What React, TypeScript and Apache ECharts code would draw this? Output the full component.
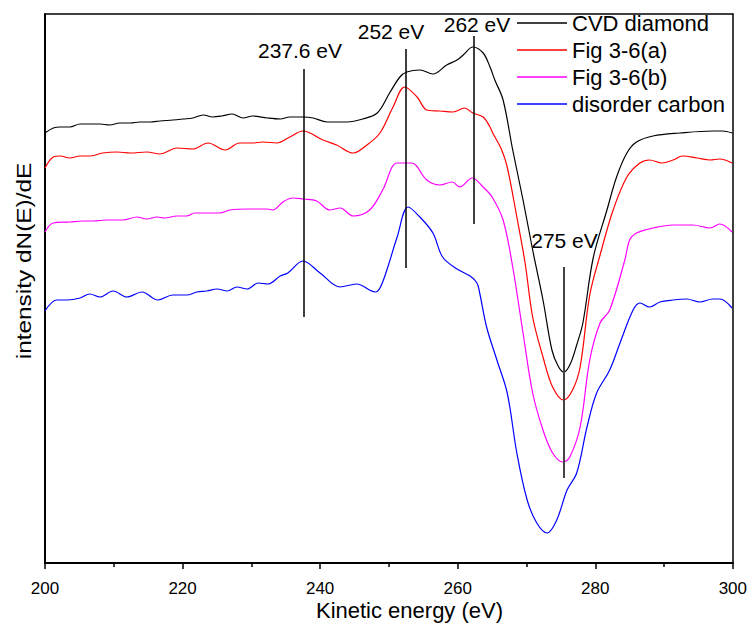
import React, { useEffect, useRef } from "react";
import * as echarts from "echarts";

// Kinetic energy (eV) and intensity (arbitrary units, vertically offset curves)
const cvdX = [200.0, 201.2, 202.2, 203.6, 205.1, 206.5, 208.0, 209.4, 210.9, 212.4, 213.8, 215.3, 216.7, 218.6, 220.1, 221.5, 223.0, 224.4, 225.7, 227.2, 228.8, 230.2, 232.3, 234.2, 235.6, 237.5, 239.0, 241.0, 243.9, 246.2, 248.3, 250.1, 251.6, 252.6, 254.5, 256.4, 258.4, 259.9, 260.8, 262.2, 263.7, 264.7, 265.4, 266.6, 268.0, 269.5, 270.9, 272.4, 273.7, 274.6, 275.4, 276.3, 277.3, 278.2, 279.7, 281.7, 283.1, 284.6, 286.0, 288.4, 292.3, 297.1, 298.5, 299.9];
const cvdY = [430, 435, 436, 436, 439, 439, 439, 438, 440, 440, 441, 441, 442, 443, 444, 445, 448, 446, 447, 449, 445, 447, 445, 444, 446, 446, 445, 441, 441, 444, 450, 470, 486, 491, 493, 489, 498, 503, 508, 516, 510, 496, 483, 463, 413, 363, 313, 263, 213, 197, 191, 198, 218, 240, 305, 353, 386, 410, 421, 427, 430, 432, 432, 430];

const figAX = [200.0, 201.2, 202.2, 203.6, 205.1, 206.5, 208.4, 210.5, 212.4, 214.8, 216.7, 219.2, 221.5, 223.7, 226.2, 228.3, 230.2, 231.7, 233.7, 235.6, 237.5, 240.4, 242.4, 244.8, 246.8, 248.7, 250.6, 252.3, 254.1, 255.5, 257.4, 259.3, 261.0, 262.2, 263.7, 264.7, 265.1, 266.4, 267.2, 268.6, 269.8, 270.9, 272.4, 273.8, 275.4, 276.7, 277.8, 279.2, 280.7, 282.6, 284.6, 286.5, 287.9, 289.7, 291.3, 292.7, 294.8, 296.7, 298.1, 299.9];
const figAY = [395, 406, 407, 405, 407, 407, 410, 411, 410, 411, 409, 415, 414, 420, 413, 420, 420, 421, 420, 426, 432, 423, 418, 410, 418, 430, 456, 476, 466, 453, 452, 451, 455, 450, 446, 436, 430, 413, 396, 346, 300, 246, 206, 176, 163, 173, 196, 268, 308, 353, 386, 400, 403, 400, 403, 407, 405, 403, 404, 400];

const figBX = [200.0, 201.2, 203.6, 205.5, 207.0, 209.0, 211.3, 213.4, 214.8, 216.3, 217.4, 219.2, 220.6, 221.8, 223.5, 225.4, 226.9, 229.4, 232.3, 233.1, 234.6, 236.0, 237.5, 239.5, 241.4, 242.9, 244.8, 247.2, 249.1, 251.2, 253.3, 255.5, 257.4, 259.2, 260.3, 262.1, 263.7, 265.0, 266.6, 268.0, 269.5, 270.9, 272.4, 273.8, 275.3, 276.3, 277.8, 279.2, 280.7, 282.1, 284.3, 285.0, 286.0, 288.4, 291.3, 294.2, 296.7, 298.1, 299.9];
const figBY = [331, 340, 341, 342, 342, 343, 343, 346, 344, 346, 345, 347, 347, 350, 350, 350, 353, 354, 354, 353, 361, 365, 364, 362, 353, 355, 347, 353, 373, 400, 400, 383, 378, 381, 376, 385, 376, 366, 343, 296, 230, 170, 133, 110, 101, 106, 136, 203, 240, 253, 303, 323, 330, 335, 338, 338, 335, 339, 331];

const disX = [200.0, 201.7, 203.2, 205.1, 206.5, 208.0, 209.9, 211.9, 214.1, 216.4, 218.6, 220.6, 222.1, 223.5, 225.0, 226.5, 227.9, 229.4, 231.0, 232.4, 234.2, 235.3, 237.5, 240.0, 242.9, 245.3, 248.0, 248.7, 249.7, 251.2, 252.8, 254.5, 256.4, 257.8, 259.9, 261.8, 262.8, 263.2, 264.2, 265.7, 267.2, 268.6, 270.1, 271.5, 273.0, 274.4, 275.9, 277.3, 278.8, 280.2, 282.1, 283.6, 285.5, 286.5, 287.9, 289.4, 291.3, 293.3, 295.2, 297.1, 298.1, 299.9];
const disY = [252, 263, 263, 265, 269, 266, 272, 266, 271, 263, 268, 268, 271, 272, 274, 272, 276, 274, 280, 279, 287, 290, 302, 290, 276, 279, 271, 275, 293, 326, 356, 346, 330, 306, 294, 287, 280, 270, 236, 203, 170, 110, 63, 40, 30, 43, 73, 90, 136, 170, 193, 220, 253, 260, 256, 261, 263, 264, 261, 264, 264, 255];

const seriesNames = ["CVD diamond", "Fig 3-6(a)", "Fig 3-6(b)", "disorder carbon"];
const seriesColors = ["#000000", "#ff0000", "#ff00ff", "#0000ff"];
const seriesX = [cvdX, figAX, figBX, disX];
const seriesY = [cvdY, figAY, figBY, disY];

// Peak marker lines: energy, label, from/to intensity
const peakEnergies = [237.6, 252.5, 262.3, 275.4];
const peakLabels = ["237.6 eV", "252 eV", "262 eV", "275 eV"];
const peakFrom = [246, 295, 339, 85];
const peakTo = [494, 514, 527, 296];

const xTicks = [200, 220, 240, 260, 280, 300];

export default function App() {
  const ref = useRef<HTMLDivElement>(null);

  useEffect(() => {
    if (!ref.current) return;
    const chart = echarts.init(ref.current, null, { renderer: "svg" });
    const font = "Liberation Sans, Arial, sans-serif";

    const series: any[] = seriesNames.map((name, i) => ({
      name,
      type: "line",
      xAxisIndex: 0,
      yAxisIndex: 0,
      data: seriesX[i].map((x, k) => [x, seriesY[i][k]]),
      symbol: "none",
      smooth: 0.35,
      lineStyle: { color: seriesColors[i], width: 1.2 },
      itemStyle: { color: seriesColors[i] },
      emphasis: { disabled: true },
      z: 3,
    }));

    series[0].markLine = {
      silent: true,
      symbol: ["none", "none"],
      label: { show: false },
      emphasis: { disabled: true },
      data: peakEnergies.map((e, i) => [
        {
          coord: [e, peakFrom[i]],
          lineStyle: {
            color: i === 3 ? "#444444" : "#000000",
            width: i === 3 ? 2 : 1.5,
            type: "solid",
          },
        },
        { coord: [e, peakTo[i]] },
      ]),
    };

    const labelPos = [
      [300, 50],
      [391, 31],
      [477, 24.5],
      [564.5, 240],
    ];

    chart.setOption({
      animation: false,
      backgroundColor: "#ffffff",
      grid: { left: 45, top: 14, width: 688, height: 549, containLabel: false },
      legend: {
        orient: "vertical",
        left: 512,
        top: 7,
        itemWidth: 50,
        itemHeight: 1.5,
        itemGap: 5,
        icon: "rect",
        selectedMode: false,
        data: seriesNames,
        textStyle: { fontSize: 22, lineHeight: 22, color: "#000", fontFamily: font },
      },
      xAxis: [
        {
          type: "value",
          min: 200,
          max: 300,
          interval: 20,
          position: "bottom",
          axisLine: { show: true, onZero: false, lineStyle: { color: "#000", width: 2 } },
          axisTick: { show: true, inside: false, length: 6, lineStyle: { color: "#000", width: 1.5 } },
          minorTick: { show: true, splitNumber: 2, length: 4, lineStyle: { color: "#000", width: 1.5 } },
          splitLine: { show: false },
          axisLabel: {
            show: true,
            margin: 17,
            fontSize: 17,
            lineHeight: 17,
            color: "#000",
            fontFamily: font,
            formatter: (v: number) => (xTicks.includes(v) ? String(v) : ""),
          },
        },
        {
          type: "value",
          min: 200,
          max: 300,
          position: "top",
          axisLine: { show: true, onZero: false, lineStyle: { color: "#000", width: 1.5 } },
          axisTick: { show: false },
          axisLabel: { show: false },
          splitLine: { show: false },
        },
      ],
      yAxis: [
        {
          type: "value",
          min: 0,
          max: 549,
          position: "left",
          axisLine: { show: true, onZero: false, lineStyle: { color: "#000", width: 2 } },
          axisTick: { show: false },
          axisLabel: { show: false },
          splitLine: { show: false },
        },
        {
          type: "value",
          min: 0,
          max: 549,
          position: "right",
          axisLine: { show: true, onZero: false, lineStyle: { color: "#000", width: 1.5 } },
          axisTick: { show: false },
          axisLabel: { show: false },
          splitLine: { show: false },
        },
      ],
      graphic: [
        ...peakLabels.map((t, i) => ({
          type: "text",
          x: labelPos[i][0],
          y: labelPos[i][1],
          silent: true,
          z: 10,
          style: {
            text: t,
            fontSize: 21,
            fontFamily: font,
            fill: "#000",
            align: "center",
            verticalAlign: "middle",
          },
        })),
        {
          type: "text",
          x: 409.5,
          y: 610,
          silent: true,
          style: {
            text: "Kinetic energy (eV)",
            fontSize: 22,
            lineHeight: 22,
            fontFamily: font,
            fill: "#000",
            align: "center",
            verticalAlign: "middle",
          },
        },
        {
          type: "text",
          x: 24,
          y: 261,
          rotation: Math.PI / 2,
          scaleX: 1.22,
          silent: true,
          style: {
            text: "intensity dN(E)/dE",
            fontSize: 20,
            fontFamily: font,
            fill: "#000",
            align: "center",
            verticalAlign: "middle",
          },
        },
      ],
      series,
    });

    return () => {
      chart.dispose();
    };
  }, []);

  return (
    <div
      ref={ref}
      style={{ position: "fixed", left: 0, top: 0, width: 750, height: 624, background: "#fff" }}
    />
  );
}
